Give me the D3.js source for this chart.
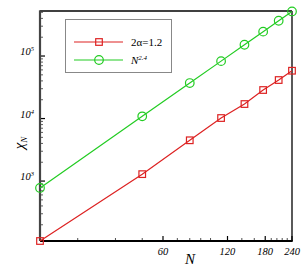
<!DOCTYPE html>
<html>
  <head>
    <meta charset="utf-8">
    <title>chi_N vs N</title>
    <script src="https://cdn.jsdelivr.net/npm/d3@7"></script>
    <style>
      body { margin: 0; background: #fff; }
      text { font-family: "Liberation Serif", "DejaVu Serif", serif; }
    </style>
  </head>
  <body>
    <svg id="chart" width="305" height="272"></svg>
    <script>
      // data
      const sizes = [16, 48, 80, 112, 144, 176, 208, 240];
      const chiAlpha = [110, 1290, 4490, 10190, 17060, 28600, 41300, 58200];
      const chiPower = [776, 10850, 36970, 82870, 151500, 245400, 366500, 516000];
      const xTicks = [60, 120, 180, 240];
      const xMinor = [24, 36, 48, 70, 80, 90, 100, 140, 160, 192, 204, 216, 228];
      const yTicks = [1e3, 1e4, 1e5];
      const yExp = ["3", "4", "5"];

      const svg = d3.select("#chart");
      const mLeft = 40, mRight = 292, mTop = 11, mBottom = 241;

      const x = d3.scaleLog().domain([16, 240]).range([mLeft, mRight]);
      const y = d3.scaleLog().domain([110, 5.25e5]).range([mBottom, mTop]);

      // minor y ticks, 2..9 of each decade
      const yMinor = [];
      [100, 1e3, 1e4, 1e5].forEach(function(d) {
        for (let k = 2; k < 10; k++) {
          const v = d * k;
          if (v > 110 && v < 5.25e5) yMinor.push(v);
        }
      });

      // frame
      svg.append("line").attr("x1", mLeft).attr("x2", mRight).attr("y1", mTop).attr("y2", mTop)
        .attr("stroke", "#000").attr("stroke-width", 1.3);
      svg.append("line").attr("x1", mRight).attr("x2", mRight).attr("y1", mTop).attr("y2", mBottom)
        .attr("stroke", "#000").attr("stroke-width", 1.3);

      // axes with inward ticks
      const xAxis = svg.append("g").attr("transform", "translate(0," + mBottom + ")");
      xAxis.selectAll(".minor").data(xMinor).enter().append("line")
        .attr("x1", x).attr("x2", x).attr("y1", 0).attr("y2", -3)
        .attr("stroke", "#222").attr("stroke-width", 0.8);
      xAxis.selectAll(".major").data(xTicks).enter().append("line")
        .attr("x1", x).attr("x2", x).attr("y1", 0).attr("y2", -5)
        .attr("stroke", "#000").attr("stroke-width", 1.2);
      xAxis.selectAll(".lab").data(xTicks).enter().append("text")
        .attr("x", x).attr("y", 14)
        .attr("text-anchor", "middle")
        .attr("font-size", 10.5).attr("font-style", "italic")
        .text(function(d) { return d; });
      xAxis.append("line").attr("x1", mLeft).attr("x2", mRight + 0.7)
        .attr("stroke", "#000").attr("stroke-width", 2);

      const yAxis = svg.append("g").attr("transform", "translate(" + mLeft + ",0)");
      yAxis.selectAll(".minor").data(yMinor).enter().append("line")
        .attr("y1", y).attr("y2", y).attr("x1", 0).attr("x2", 3)
        .attr("stroke", "#333").attr("stroke-width", 0.8);
      yAxis.selectAll(".major").data(yTicks).enter().append("line")
        .attr("y1", y).attr("y2", y).attr("x1", 0).attr("x2", 5)
        .attr("stroke", "#000").attr("stroke-width", 1.2);
      const yLab = yAxis.selectAll(".lab").data(yTicks).enter().append("text")
        .attr("x", -6).attr("y", function(d) { return y(d) - 1; })
        .attr("text-anchor", "end")
        .attr("font-size", 10.5).attr("font-style", "italic");
      yLab.append("tspan").text("10");
      yLab.append("tspan").attr("font-size", 6.5).attr("dy", -4)
        .text(function(d, i) { return yExp[i]; });
      yAxis.append("line").attr("y1", mTop - 0.7).attr("y2", mBottom)
        .attr("stroke", "#444").attr("stroke-width", 2.2);

      // axis titles
      svg.append("text").attr("x", 190).attr("y", 264)
        .attr("text-anchor", "middle").attr("font-size", 15).attr("font-style", "italic")
        .text("N");
      const yTitle = svg.append("text")
        .attr("transform", "translate(24,143) rotate(-90)")
        .attr("text-anchor", "middle").attr("font-size", 15).attr("font-style", "italic");
      yTitle.append("tspan").text("χ");
      yTitle.append("tspan").attr("font-size", 9).attr("dy", 3).text("N");

      // series
      const red = "#dd2222", green = "#22cc22";
      const line = d3.line()
        .x(function(d) { return x(d[0]); })
        .y(function(d) { return y(d[1]); });
      const redData = d3.zip(sizes, chiAlpha);
      const greenData = d3.zip(sizes, chiPower);

      svg.append("path").datum(greenData).attr("d", line)
        .attr("fill", "none").attr("stroke", green).attr("stroke-width", 1.2);
      svg.append("path").datum(redData).attr("d", line)
        .attr("fill", "none").attr("stroke", red).attr("stroke-width", 1.2);

      svg.selectAll(".circ").data(greenData).enter().append("circle")
        .attr("cx", function(d) { return x(d[0]); })
        .attr("cy", function(d) { return y(d[1]); })
        .attr("r", 4.3).attr("fill", "none").attr("stroke", green).attr("stroke-width", 1.2);
      svg.selectAll(".sq").data(redData).enter().append("rect")
        .attr("x", function(d) { return x(d[0]) - 3.3; })
        .attr("y", function(d) { return y(d[1]) - 3.3; })
        .attr("width", 6.6).attr("height", 6.6)
        .attr("fill", "none").attr("stroke", red).attr("stroke-width", 1.2);

      // legend
      const legend = svg.append("g");
      legend.append("rect").attr("x", 65.5).attr("y", 19.5).attr("width", 106).attr("height", 53)
        .attr("fill", "#fff").attr("stroke", "#888").attr("stroke-width", 1);
      legend.append("line").attr("x1", 74).attr("x2", 123).attr("y1", 42).attr("y2", 42)
        .attr("stroke", red).attr("stroke-width", 1.2);
      legend.append("rect").attr("x", 95.7).attr("y", 38.7).attr("width", 6.6).attr("height", 6.6)
        .attr("fill", "none").attr("stroke", red).attr("stroke-width", 1.2);
      legend.append("line").attr("x1", 74).attr("x2", 123).attr("y1", 60).attr("y2", 60)
        .attr("stroke", green).attr("stroke-width", 1.2);
      legend.append("circle").attr("cx", 99).attr("cy", 60).attr("r", 4.3)
        .attr("fill", "none").attr("stroke", green).attr("stroke-width", 1.2);
      legend.append("text").attr("x", 131).attr("y", 46).attr("font-size", 11)
        .text("2α=1.2");
      const l2 = legend.append("text").attr("x", 131).attr("y", 64)
        .attr("font-size", 11).attr("font-style", "italic");
      l2.append("tspan").text("N");
      l2.append("tspan").attr("font-size", 7).attr("dy", -4).text("2.4");
    </script>
  </body>
</html>
